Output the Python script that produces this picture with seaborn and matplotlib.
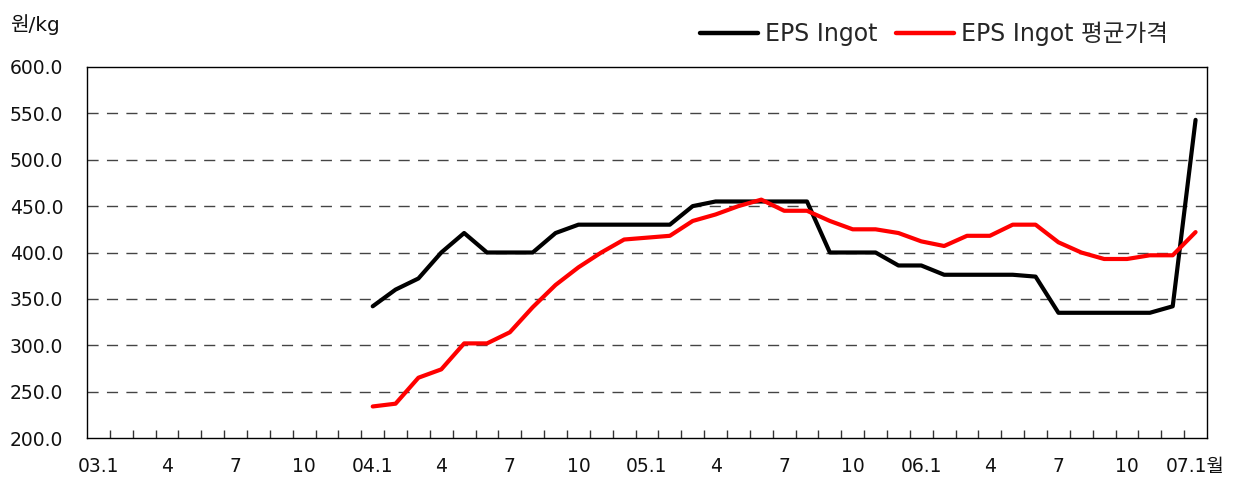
import numpy as np
import pandas as pd
import matplotlib
matplotlib.use("Agg")
import matplotlib.pyplot as plt
import seaborn as sns
from matplotlib.lines import Line2D

sns.set_theme(style="white")
plt.rcParams['font.family'] = ['DejaVu Sans', 'Noto Sans CJK KR']

# ---- data ----
n_months = 49  # 03.1 .. 07.1
tick_labels = ['03.1', '4', '7', '10', '04.1', '4', '7', '10',
               '05.1', '4', '7', '10', '06.1', '4', '7', '10', '07.1월']
series_names = ['EPS Ingot', 'EPS Ingot 평균가격']
start_index = 12  # data begins at 04.1
eps_ingot = [342, 360, 372, 400, 421, 400, 400, 400, 421, 430, 430, 430,
             430, 430, 450, 455, 455, 455, 455, 455, 400, 400, 400, 386,
             386, 376, 376, 376, 376, 374, 335, 335, 335, 335, 335, 342, 543]
eps_avg = [234, 237, 265, 274, 302, 302, 314, 341, 365, 384, 400, 414,
           416, 418, 434, 441, 450, 457, 445, 445, 434, 425, 425, 421,
           412, 407, 418, 418, 430, 430, 411, 400, 393, 393, 397, 397, 422]
y_ticks = [200, 250, 300, 350, 400, 450, 500, 550, 600]
colors = ['#000000', '#ff0000']

idx = list(range(start_index, start_index + len(eps_ingot)))
df = pd.DataFrame({
    'month': idx * 2,
    'value': eps_ingot + eps_avg,
    'series': [series_names[0]] * len(idx) + [series_names[1]] * len(idx),
})

fig = plt.figure(figsize=(12.44, 4.84), dpi=100)
ax = fig.add_axes([87 / 1244, 1 - 438 / 484, (1207 - 87) / 1244, (438 - 67) / 484])

sns.lineplot(data=df, x='month', y='value', hue='series',
             palette=dict(zip(series_names, colors)), linewidth=3,
             legend=False, ax=ax, zorder=3)

ax.set_xlim(-0.5, n_months - 0.5)
ax.set_ylim(200, 600)
ax.set_yticks(y_ticks)
ax.set_yticklabels([f'{v:.1f}' for v in y_ticks], fontsize=13.5, color='#111111')
ax.set_xticks(list(range(0, n_months, 3)))
ax.set_xticklabels(tick_labels, fontsize=13.5, color='#111111')
ax.set_xticks([i + 0.5 for i in range(n_months - 1)], minor=True)
ax.tick_params(axis='x', which='major', length=0, pad=14)
ax.tick_params(axis='x', which='minor', direction='in', length=6, width=1, color='#333333', bottom=True)
ax.tick_params(axis='y', length=0, pad=17)
ax.set_xlabel('')
ax.set_ylabel('')

for v in y_ticks[1:-1]:
    ax.axhline(v, color='#444444', linewidth=1, linestyle=(0, (8, 6)), zorder=1)

for s in ax.spines.values():
    s.set_color('#000000')
    s.set_linewidth(1)

fig.text(10 / 1244, 1 - 25 / 484, '원/kg', fontsize=14.5, va='center', ha='left', color='#111111')

handles = [Line2D([0], [0], color=c, lw=3.2) for c in colors]
fig.legend(handles, series_names, loc='center right', bbox_to_anchor=(1168 / 1244, 1 - 34 / 484),
           ncol=2, frameon=False, fontsize=17, handlelength=2.45, handletextpad=0.3,
           columnspacing=0.8, borderaxespad=0, borderpad=0)

fig.savefig('out.png', dpi=100)
